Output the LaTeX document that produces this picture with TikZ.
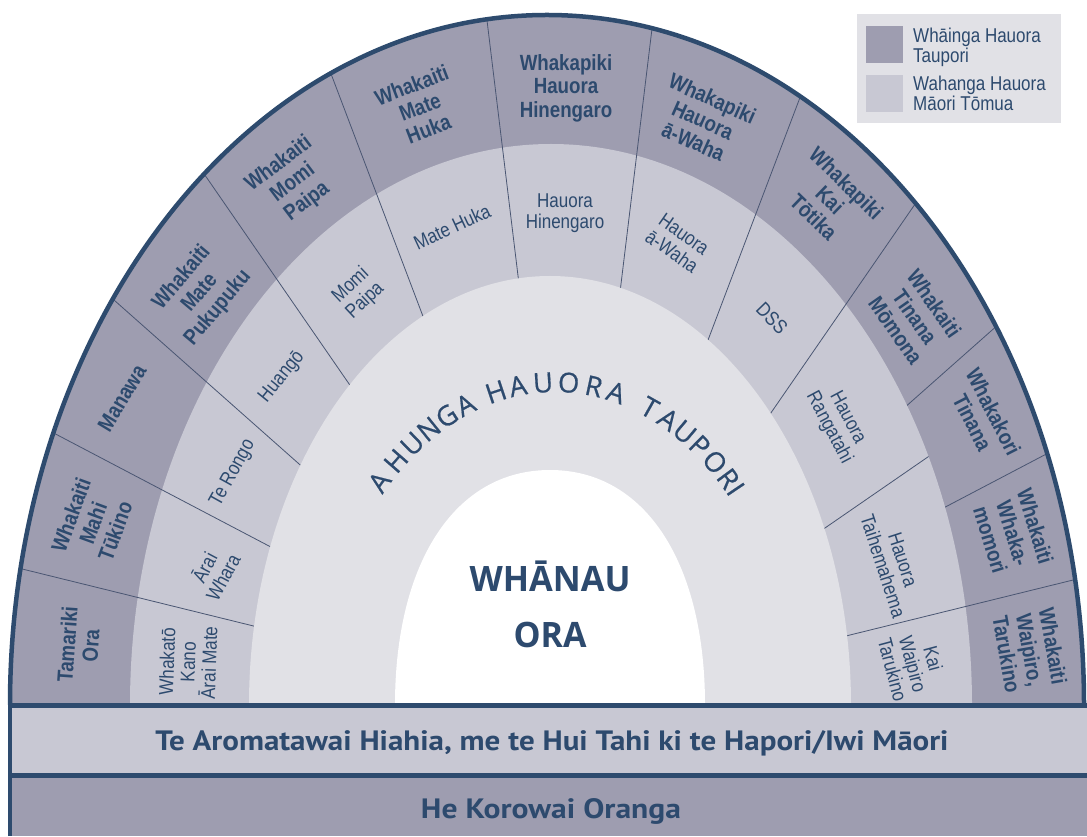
\documentclass[tikz,border=0pt]{standalone}
\usepackage{fontspec}
\usepackage{graphicx}
\newfontfamily\condfont{Liberation Sans}[FakeStretch=0.85]
\newfontfamily\humfont{Open Sans}
\newfontfamily\ahfam{Open Sans}[FakeBold=0.6]
\newfontfamily\barfnt{PT Sans}
\newcommand\olabfont{\condfont\bfseries\fontsize{22}{23.5}\selectfont}
\newcommand\ilabfont{\condfont\fontsize{20}{21}\selectfont}
\newcommand\legfont{\condfont\fontsize{20}{20}\selectfont}
\newcommand\ahfont{\ahfam\fontsize{27.5}{30}\selectfont}
\newcommand\whfont{\humfont\bfseries\fontsize{35}{40}\selectfont}
\newcommand\barfont{\barfnt\bfseries\fontsize{28}{32}\selectfont}
\definecolor{navy}{HTML}{2D4A6E}
\definecolor{ringdark}{HTML}{9E9DB0}
\definecolor{ringlight}{HTML}{C8C8D3}
\definecolor{ahunga}{HTML}{E1E1E6}
\definecolor{outline}{HTML}{2E4B6E}
\definecolor{divline}{HTML}{4A5672}
\begin{document}
\begin{tikzpicture}[x=1pt,y=1pt,
  olab/.style={font=\olabfont, text=navy, align=center, inner sep=0pt},
  ilab/.style={font=\ilabfont, text=navy, align=center, inner sep=0pt},
  legtext/.style={font=\legfont, text=navy, anchor=base west, inner sep=0pt},
  ahl/.style={font=\ahfont, text=navy, anchor=base, inner sep=0pt},
  divider/.style={draw=divline, line width=0.8pt},
  bartext/.style={font=\barfont, text=navy, anchor=base, inner sep=0pt}]
\useasboundingbox (0,0) rectangle (1087,836);
\fill[white] (0,0) rectangle (1087,836);
% outer ring
\fill[ringdark] (10,131) arc[start angle=180, end angle=0, x radius=537, y radius=690] -- cycle;
\coordinate (dc) at (570,132);
\begin{scope}
  \clip (10,131) arc[start angle=180, end angle=0, x radius=537, y radius=690] -- cycle;
  \foreach \a in {27.692,41.538} \draw[divider] (dc) -- ++(\a:800);
\end{scope}
% inner ring
\fill[ringlight] (130,131) arc[start angle=180, end angle=0, x radius=421, y radius=561] -- cycle;
\begin{scope}
  \clip (10,131) arc[start angle=180, end angle=0, x radius=537, y radius=690] -- cycle;
  \foreach \a in {13.846,55.385,69.231,83.077,96.923,110.769,124.615,138.462,152.308,166.154}
    \draw[divider] (dc) -- ++(\a:800);
\end{scope}
\begin{scope}
  \clip (130,131) arc[start angle=180, end angle=0, x radius=421, y radius=561] -- cycle;
  \draw[divider] (dc) -- ++(34.615:800);
\end{scope}
% ahunga region
\fill[ahunga] (249,131) arc[start angle=180, end angle=0, x radius=301, y radius=429] -- cycle;
% whanau region
\fill[white] (395,131) .. controls (395,272) and (454,366) .. (550,366)
  .. controls (646,366) and (705,272) .. (705,131) -- cycle;
% outline
\draw[outline, line width=4.5pt] (10,131) arc[start angle=180, end angle=0, x radius=537, y radius=690];
% bars
\fill[ringlight] (10,131) rectangle (1087,61);
\fill[ringdark] (10,61) rectangle (1087,0);
\draw[outline, line width=5pt] (8,130.5) -- (1087,130.5);
\draw[outline, line width=5pt] (8,60.5) -- (1087,60.5);
\draw[outline, line width=4.5pt] (10,0) -- (10,133);
\node[bartext] (bar1) at (552,86) {\resizebox{793pt}{\height}{Te Aromatawai Hiahia, me te Hui Tahi ki te Hapori/Iwi Māori}};
\node[bartext] (bar2) at (551,18) {\resizebox{260pt}{\height}{He Korowai Oranga}};
% center texts
\node[font=\whfont, text=navy, anchor=base, inner sep=0pt] (wh1) at (550,244) {\resizebox{161pt}{\height}{WHĀNAU}};
\node[font=\whfont, text=navy, anchor=base, inner sep=0pt] (wh2) at (550,189) {\resizebox{73pt}{\height}{ORA}};
% arc text, letter by letter
\foreach \t/\c [count=\i] in {136.0/A,130.6/H,125.7/U,121.0/N,116.2/G,111.4/A,
    103.9/H,98.7/A,92.8/U,86.8/O,80.9/R,75.6/A,
    67.3/T,62.5/A,58.0/U,53.7/P,49.1/O,44.8/R,42.2/I}{
  \pgfmathsetmacro\rot{atan2(-313*cos(\t),233*sin(\t))}
  \node[ahl, rotate=\rot] (ah\i) at ({555+233*cos(\t)},{131+313*sin(\t)}) {\c};
}
% outer labels
\node[olab, rotate=86] (o1) at (79,191) {Tamariki\\Ora};
\node[olab, rotate=70] (o2) at (93,313) {Whakaiti\\Mahi\\Tūkino};
\node[olab, rotate=59] (o3) at (122,438) {Manawa};
\node[olab, rotate=50] (o4) at (200,543) {Whakaiti\\Mate\\Pukupuku};
\node[olab, rotate=37] (o5) at (293,653) {Whakaiti\\Momi\\Paipa};
\node[olab, rotate=21] (o6) at (420,729) {Whakaiti\\Mate\\Huka};
\node[olab] (o7) at (566,748) {Whakapiki\\Hauora\\Hinengaro};
\node[olab, rotate=-24] (o8) at (703,716) {Whakapiki\\Hauora\\ā-Waha};
\node[olab, rotate=-44] (o9) at (830,636) {Whakapiki\\Kai\\Tōtika};
\node[olab, rotate=-55] (o10) at (915,519) {Whakaiti\\Tinana\\Mōmona};
\node[olab, rotate=-63] (o11) at (983,419) {Whakakori\\Tinana};
\node[olab, rotate=-73] (o12) at (1013,303) {Whakaiti\\Whaka-\\momori};
\node[olab, rotate=-80] (o13) at (1030,186) {Whakaiti\\Waipiro,\\Tarukino};
% inner labels
\node[ilab, rotate=88] (i1) at (188,174) {Whakatō\\Kano\\Ārai Mate};
\node[ilab, rotate=62] (i2) at (213,264) {Ārai\\Whara};
\node[ilab, rotate=61] (i3) at (233,363) {Te Rongo};
\node[ilab, rotate=51] (i4) at (282,459) {Huangō};
\node[ilab, rotate=43] (i5) at (358,543) {Momi\\Paipa};
\node[ilab, rotate=25] (i6) at (452,609) {Mate Huka};
\node[ilab] (i7) at (565,623) {Hauora\\Hinengaro};
\node[ilab, rotate=-35] (i8) at (678,593) {Hauora\\ā-Waha};
\node[ilab, rotate=-46] (i9) at (772,518) {DSS};
\node[ilab, rotate=-62] (i10) at (838,413) {Hauora\\Rangatahi};
\node[ilab, rotate=-72] (i11) at (893,273) {Hauora\\Taihemahema};
\node[ilab, rotate=-75] (i12) at (913,172) {Kai\\Waipiro\\Tarukino};
% legend
\fill[ahunga] (857,712.7) rectangle (1061,822);
\fill[ringdark] (866,773.3) rectangle (903,810) node[pos=0.5, inner sep=0pt] (sw1) {};
\fill[ringlight] (866,724.3) rectangle (903,761) node[pos=0.5, inner sep=0pt] (sw2) {};
\node[legtext] (l1a) at (913,793) {Whāinga Hauora};
\node[legtext] (l1b) at (913,773) {Taupori};
\node[legtext] (l2a) at (913,745) {Wahanga Hauora};
\node[legtext] (l2b) at (913,725) {Māori Tōmua};
\end{tikzpicture}
\end{document}
